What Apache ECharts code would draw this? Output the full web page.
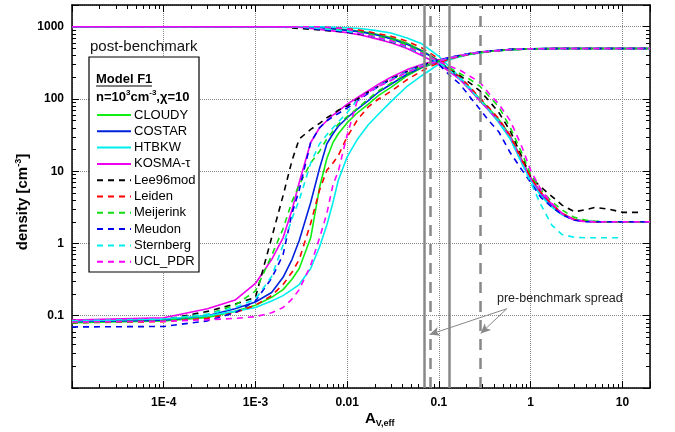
<!DOCTYPE html>
<html><head><meta charset="utf-8">
<script src="https://cdn.jsdelivr.net/npm/echarts@6/dist/echarts.min.js"></script>
<style>html,body{margin:0;padding:0;background:#fff}#c{width:675px;height:432px}</style>
</head><body><div id="c"></div>
<script>
// ---------------- data ----------------
const models = ['CLOUDY','COSTAR','HTBKW','KOSMA-τ','Lee96mod','Leiden','Meijerink','Meudon','Sternberg','UCL_PDR'];
const colors = ['#11ee11','#0022dd','#00eeee','#ee00ee','#000000','#ff0000','#11dd11','#0000ee','#00eeee','#ff00ff'];
const dashed = [false,false,false,false,true,true,true,true,true,true];

// H2 density (rising curves)
const xH2 = [1e-5,1e-4,3e-4,6e-4,1e-3,1.5e-3,2e-3,2.5e-3,3e-3,4e-3,5e-3,6e-3,7e-3,8e-3,0.01,0.013,0.017,0.022,0.03,0.045,0.065,0.1,0.15,0.22,0.35,0.6,1,2,5,10,20];
const h2_CLOUDY    = [0.08,0.085,0.095,0.115,0.14,0.18,0.23,0.32,0.45,1.2,6,15,25,33,47,65,85,112,145,210,270,330,380,420,455,482,494,499,499,499,499];
const h2_COSTAR    = [0.083,0.087,0.1,0.125,0.155,0.21,0.34,0.6,1.1,3.7,11,24,33,42,55,73,95,125,160,220,275,332,380,420,455,482,494,499,499,499,499];
const h2_HTBKW     = [0.085,0.09,0.1,0.115,0.13,0.16,0.19,0.23,0.27,0.45,0.9,1.8,3.7,7.5,15.8,28,44,62,92,150,210,305,370,415,455,482,494,499,499,499,499];
const h2_KOSMA     = [0.087,0.094,0.125,0.165,0.28,0.6,1.2,2.9,7,25,40,50,60,68,85,105,130,160,200,255,300,350,390,430,460,485,495,499,499,499,499];
const h2_Lee96mod  = [0.082,0.088,0.115,0.145,0.18,1.2,4.6,14,28,38,46,55,62,70,80,100,125,150,190,240,295,340,385,425,460,485,495,499,499,499,499];
const h2_Leiden    = [0.08,0.083,0.092,0.11,0.14,0.19,0.27,0.4,0.6,1.9,5.5,10.3,13,16.5,30,52,78,100,128,185,245,320,375,418,455,482,494,499,499,499,499];
const h2_Meijerink = [0.08,0.085,0.105,0.14,0.22,0.68,1.6,3.8,6.5,13,19,28,36,45,57,75,100,130,165,225,280,335,380,420,455,482,494,499,499,499,499];
const h2_Meudon    = [0.07,0.071,0.085,0.11,0.16,0.33,0.7,2.6,5.5,25,40,50,57,63,75,95,120,150,185,240,290,345,390,428,462,486,496,499,499,499,499];
const h2_Sternberg = [0.085,0.09,0.105,0.13,0.17,0.35,0.95,2.2,4,13,24,32,40,48,65,98,125,150,185,240,290,340,385,425,460,485,496,499,499,499,499];
const h2_UCL_PDR   = [0.082,0.084,0.088,0.092,0.097,0.11,0.13,0.17,0.23,0.5,1.2,2.6,6.5,10,32,98,125,150,180,235,285,335,382,422,457,484,495,499,499,499,499];

// H density (falling curves)
const xH = [1e-5,1e-3,2e-3,3e-3,5e-3,0.01,0.014,0.02,0.03,0.045,0.065,0.1,0.13,0.17,0.22,0.28,0.35,0.45,0.6,0.8,1,1.3,1.7,2.2,3,4,5,7,10,15,20];
const h_CLOUDY    = [1000,1000,1000,999,988,905,865,800,710,590,470,340,255,195,140,100,74,52,31,14.5,8.2,5,3.5,2.6,2.15,2.05,2,2,2,2,2];
const h_COSTAR    = [1000,1000,1000,998,978,890,850,780,680,570,460,335,250,188,133,95,70,49,29,13.5,7.8,4.8,3.4,2.55,2.12,2.03,2,2,2,2,2];
const h_HTBKW     = [1000,1000,1000,1000,998,968,945,890,820,700,580,390,280,200,140,96,70,47,28,13,7.5,4.5,3.2,2.5,2.12,2.03,2,2,2,2,2];
const h_KOSMA     = [1000,1000,997,985,920,830,770,690,600,500,400,300,240,185,132,94,70,49,30,14,8,5,3.5,2.6,2.12,2.03,2,2,2,2,2];
const h_Lee96mod  = [1000,1000,990,945,905,840,790,720,620,520,420,320,260,210,165,130,95,65,36,16,8.4,6,4.5,3.4,2.75,2.95,3.15,3.0,2.7,2.7,null];
const h_Leiden    = [1000,1000,1000,999,989,940,895,820,740,630,510,360,265,200,145,103,76,53,31,14.5,8.3,5.1,3.5,2.6,2.15,2.05,2,2,2,2,2];
const h_Meijerink = [1000,1000,997,987,962,886,845,760,670,560,450,330,270,225,185,150,110,78,40,18,9,5.5,3.8,2.9,2.3,2.1,2.05,2,2,2,2];
const h_Meudon    = [1000,1000,998,990,920,850,800,720,630,530,420,300,215,160,105,72,50,35,18,10.5,7,4.3,3.2,2.5,2.1,2,2,2,2,2,2];
const h_Sternberg = [1000,1000,998,992,950,870,805,720,630,520,420,320,250,190,135,96,71,49,28,13,7,3.4,1.8,1.33,1.22,1.2,1.2,1.2,1.2,null,null];
const h_UCL_PDR   = [1000,1000,1000,999,998,935,800,720,640,530,430,330,285,250,205,170,120,85,50,22,10.3,5.5,3.6,2.6,2.1,2,2,2,2,2,2];

const h2Sets = [h2_CLOUDY,h2_COSTAR,h2_HTBKW,h2_KOSMA,h2_Lee96mod,h2_Leiden,h2_Meijerink,h2_Meudon,h2_Sternberg,h2_UCL_PDR];
const hSets  = [h_CLOUDY,h_COSTAR,h_HTBKW,h_KOSMA,h_Lee96mod,h_Leiden,h_Meijerink,h_Meudon,h_Sternberg,h_UCL_PDR];

// tick labels (by decade exponent)
const xTickLabels = {'-5':'', '-4':'1E-4', '-3':'1E-3', '-2':'0.01', '-1':'0.1', '0':'1', '1':'10'};
const yTickLabels = {'-2':'', '-1':'0.1', '0':'1', '1':'10', '2':'100', '3':'1000'};

// reference lines (post-benchmark solid, pre-benchmark dashed)
const solidRefLines = [0.072, 0.132];
const dashedRefLines = [0.079, 0.285];
const arrowStart = [0.55, 0.125];
const arrowEnds = [[0.079, 0.055], [0.285, 0.057]];

// ---------------- chart ----------------
const X_MIN = 1e-5, X_MAX = 20, Y_MIN = 0.01, Y_MAX = 2000;
function minorVals(lo, hi) {
  const out = [];
  for (let e = Math.floor(Math.log10(lo)); e <= Math.ceil(Math.log10(hi)); e++)
    for (let m = 2; m <= 9; m++) { const v = m * Math.pow(10, e); if (v > lo && v < hi) out.push(+v.toPrecision(6)); }
  return out;
}
function labelFor(map) {
  return function (v) {
    const l = Math.log10(v), r = Math.round(l);
    if (Math.abs(l - r) > 0.01) return '';
    return map[String(r)] || '';
  };
}
const FONT = '"Liberation Sans", Arial, Helvetica, sans-serif';
const axisLineStyle = { show: true, lineStyle: { color: '#000', width: 1.5 } };
const gridLine = { show: true, lineStyle: { color: '#888', type: [1, 1], width: 1 } };

function xAx(pos, major, withLabel) {
  return {
    type: 'log', logBase: 10, min: X_MIN, max: X_MAX, position: pos, gridIndex: 0,
    axisLine: major ? axisLineStyle : { show: false },
    axisTick: major ? { show: true, inside: true, length: 7, lineStyle: { color: '#000', width: 1 } }
                    : { show: true, inside: true, length: 4, customValues: minorVals(X_MIN, X_MAX), lineStyle: { color: '#000', width: 1 } },
    axisLabel: withLabel ? { show: true, formatter: labelFor(xTickLabels), color: '#000', fontWeight: 'bold', fontSize: 12, fontFamily: FONT, margin: 9 } : { show: false },
    splitLine: (major && withLabel) ? gridLine : { show: false },
    minorTick: { show: false }
  };
}
function yAx(pos, major, withLabel) {
  return {
    type: 'log', logBase: 10, min: Y_MIN, max: Y_MAX, position: pos, gridIndex: 0,
    axisLine: major ? axisLineStyle : { show: false },
    axisTick: major ? { show: true, inside: true, length: 7, lineStyle: { color: '#000', width: 1 } }
                    : { show: true, inside: true, length: 4, customValues: minorVals(Y_MIN, Y_MAX), lineStyle: { color: '#000', width: 1 } },
    axisLabel: withLabel ? { show: true, formatter: labelFor(yTickLabels), color: '#000', fontWeight: 'bold', fontSize: 12, fontFamily: FONT, margin: 8 } : { show: false },
    splitLine: (major && withLabel) ? gridLine : { show: false },
    minorTick: { show: false }
  };
}

const series = [];
models.forEach((m, i) => {
  const ls = { color: colors[i], width: 1.6, type: dashed[i] ? [6, 5] : 'solid' };
  series.push({ name: m, type: 'line', xAxisIndex: 0, yAxisIndex: 0, symbol: 'none', showSymbol: false,
    lineStyle: ls, itemStyle: { color: colors[i] }, z: 2, animation: false,
    data: xH.map((x, k) => [x, hSets[i][k]]) });
  series.push({ name: m, type: 'line', xAxisIndex: 0, yAxisIndex: 0, symbol: 'none', showSymbol: false,
    lineStyle: ls, itemStyle: { color: colors[i] }, z: 2, animation: false,
    data: xH2.map((x, k) => [x, h2Sets[i][k]]) });
});
series.push({ name: 'refs', type: 'line', data: [], xAxisIndex: 0, yAxisIndex: 0, animation: false,
  markLine: { silent: true, symbol: 'none', label: { show: false }, animation: false,
    data: solidRefLines.map(v => ({ xAxis: v, lineStyle: { color: '#888', width: 2.5, type: 'solid' } }))
      .concat(dashedRefLines.map(v => ({ xAxis: v, lineStyle: { color: '#888', width: 2.5, type: [11, 8] } }))) } });
series.push({ name: 'arrows', type: 'line', data: [], xAxisIndex: 0, yAxisIndex: 0, animation: false,
  markLine: { silent: true, symbol: ['none', 'arrow'], symbolSize: [7, 10], label: { show: false }, animation: false,
    lineStyle: { color: '#888', width: 1, type: 'solid' },
    data: arrowEnds.map(e => [{ coord: arrowStart }, { coord: e }]) } });

const option = {
  backgroundColor: '#fff',
  animation: false,
  grid: { left: 72, top: 5, width: 578, height: 383, show: false },
  xAxis: [xAx('bottom', true, true), xAx('top', true, false), xAx('bottom', false, false), xAx('top', false, false)],
  yAxis: [yAx('left', true, true), yAx('right', true, false), yAx('left', false, false), yAx('right', false, false)],
  legend: {
    data: models, orient: 'vertical', left: 96, top: 108.5, padding: 0, itemWidth: 34, itemHeight: 14, itemGap: 3.3,
    itemStyle: { color: 'rgba(0,0,0,0)', borderColor: 'rgba(0,0,0,0)', borderWidth: 0, opacity: 0 },
    textStyle: { fontSize: 13, fontFamily: FONT, color: '#000', padding: [0, 0, 0, -2] }, z: 10, selectedMode: false
  },
  graphic: [
    { type: 'rect', z: 3, shape: { x: 89, y: 57, width: 110, height: 215 }, style: { fill: '#fff', stroke: '#000', lineWidth: 1.2 } },
    { type: 'text', z: 10, x: 90, y: 47, style: { text: 'post-benchmark', font: '15px ' + FONT, fill: '#111', textVerticalAlign: 'middle' } },
    { type: 'text', z: 10, x: 96, y: 79, style: { text: 'Model F1', font: 'bold 13px ' + FONT, fill: '#000', textVerticalAlign: 'middle' } },
    { type: 'line', z: 10, shape: { x1: 96, y1: 86, x2: 152, y2: 86 }, style: { stroke: '#000', lineWidth: 1 } },
    { type: 'text', z: 10, x: 96, y: 97, style: {
      text: '{b|n=10}{s|3}{b|cm}{s|-3}{b|,χ=10}', textVerticalAlign: 'middle',
      rich: { b: { font: 'bold 13px ' + FONT, fill: '#000', lineHeight: 16 },
              s: { font: 'bold 8px ' + FONT, fill: '#000', lineHeight: 8, verticalAlign: 'top' } } } },
    { type: 'text', z: 10, x: 497, y: 299, style: { text: 'pre-benchmark spread', font: '12.5px ' + FONT, fill: '#222', textVerticalAlign: 'middle' } },
    { type: 'text', z: 10, x: 23, y: 202, rotation: Math.PI / 2, style: {
      text: '{b|density [cm}{s|-3}{b|]}', textAlign: 'center', textVerticalAlign: 'middle',
      rich: { b: { font: 'bold 15px ' + FONT, fill: '#000', lineHeight: 18 },
              s: { font: 'bold 9px ' + FONT, fill: '#000', lineHeight: 9, verticalAlign: 'top' } } } },
    { type: 'text', z: 10, x: 365, y: 419, style: {
      text: '{a|A}{s|V,eff}', textVerticalAlign: 'middle',
      rich: { a: { font: 'bold 15px ' + FONT, fill: '#000', lineHeight: 18 },
              s: { font: 'bold 9px ' + FONT, fill: '#000', lineHeight: 9, verticalAlign: 'bottom' } } } }
  ],
  series: series
};
const chart = echarts.init(document.getElementById('c'), null, { renderer: 'canvas' });
chart.setOption(option);
</script></body></html>
